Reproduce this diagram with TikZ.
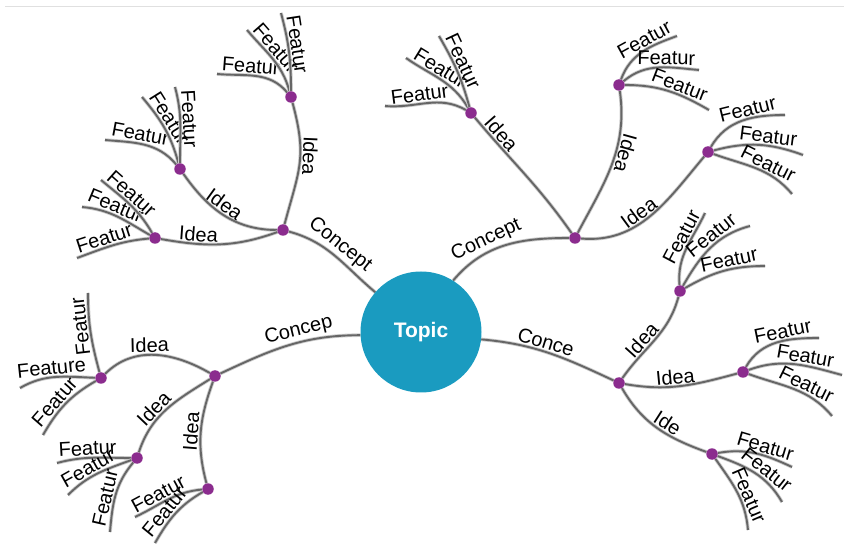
\documentclass[tikz,border=0pt]{standalone}
\usepackage{fontspec}
\setmainfont{Liberation Sans}
\usetikzlibrary{backgrounds}

\definecolor{topicblue}{HTML}{1A9BC0}
\definecolor{dotpurple}{HTML}{8B2C8E}
\definecolor{branchgray}{HTML}{666666}

\tikzset{
  topicnode/.style={circle, fill=topicblue, minimum size=121pt, inner sep=0pt,
                    text=white, font=\fontsize{21}{21}\selectfont\bfseries},
  dotnode/.style={circle, fill=dotpurple, minimum size=11.5pt, inner sep=0pt},
  branch/.style={draw=branchgray, line width=1.9pt,
                 preaction={draw=black!20, line width=3.6pt}},
  lbl/.style={sloped, allow upside down, above, inner sep=1.5pt,
              font=\fontsize{20}{20}\selectfont},
  fout/.style={lbl, pos=0.6},
  fin/.style={lbl, pos=0.42},
}

\begin{document}
\begin{tikzpicture}[x=1pt,y=1pt]
  \useasboundingbox (0,0) rectangle (844,-545);
  \draw[black!12, line width=1pt] (5,-7) -- (844,-7);

  % Topic and concepts
  \node[topicnode] (topic) at (421,-332) {Topic};
  \node[dotnode] (cNW) at (283,-230) {};
  \node[dotnode] (cNE) at (575,-238) {};
  \node[dotnode] (cSW) at (215,-376) {};
  \node[dotnode] (cSE) at (619,-383) {};

  % Ideas
  \node[dotnode] (iNWa) at (291,-97) {};
  \node[dotnode] (iNWb) at (180,-169) {};
  \node[dotnode] (iNWc) at (155,-238) {};
  \node[dotnode] (iNEa) at (471,-113) {};
  \node[dotnode] (iNEb) at (619,-85) {};
  \node[dotnode] (iNEc) at (708,-152) {};
  \node[dotnode] (iSWa) at (101,-378) {};
  \node[dotnode] (iSWb) at (137,-458) {};
  \node[dotnode] (iSWc) at (208,-489) {};
  \node[dotnode] (iSEa) at (680,-291) {};
  \node[dotnode] (iSEb) at (743,-372) {};
  \node[dotnode] (iSEc) at (712,-454) {};

  % Feature ends
  \coordinate (fNWa1) at (217,-74);
  \coordinate (fNWa2) at (247,-30);
  \coordinate (fNWa3) at (281,-13);
  \coordinate (fNWb1) at (105,-140);
  \coordinate (fNWb2) at (142,-97);
  \coordinate (fNWb3) at (175,-87);
  \coordinate (fNWc1) at (77,-258);
  \coordinate (fNWc2) at (82,-207);
  \coordinate (fNWc3) at (101,-180);
  \coordinate (fNEa1) at (385,-106);
  \coordinate (fNEa2) at (406,-58);
  \coordinate (fNEa3) at (439,-36);
  \coordinate (fNEb1) at (677,-36);
  \coordinate (fNEb2) at (699,-70);
  \coordinate (fNEb3) at (709,-110);
  \coordinate (fNEc1) at (785,-115);
  \coordinate (fNEc2) at (803,-155);
  \coordinate (fNEc3) at (792,-194);
  \coordinate (fSWa1) at (88,-293);
  \coordinate (fSWa2) at (20,-388);
  \coordinate (fSWa3) at (43,-435);
  \coordinate (fSWb1) at (57,-463);
  \coordinate (fSWb2) at (68,-495);
  \coordinate (fSWb3) at (110,-532);
  \coordinate (fSWc1) at (135,-517);
  \coordinate (fSWc2) at (155,-543);
  \coordinate (fSEa1) at (705,-213);
  \coordinate (fSEa2) at (750,-226);
  \coordinate (fSEa3) at (765,-266);
  \coordinate (fSEb1) at (819,-338);
  \coordinate (fSEb2) at (842,-375);
  \coordinate (fSEb3) at (832,-416);
  \coordinate (fSEc1) at (792,-467);
  \coordinate (fSEc2) at (782,-502);
  \coordinate (fSEc3) at (748,-530);

  \begin{scope}[on background layer]
    % Concepts
    \draw[branch] (cNW) to[out=-15,in=140] node[lbl,pos=0.47]{Concept} (topic.139);
    \draw[branch] (topic.58) to[out=50,in=180] node[lbl,pos=0.38]{Concept} (cNE);
    \draw[branch] (cSW) to[out=25,in=180] node[lbl,pos=0.6]{Concep} (topic.183);
    \draw[branch] (topic.-7) to[out=-5,in=155] node[lbl,pos=0.45]{Conce} (cSE);

    % Ideas
    \draw[branch] (iNWa) to[out=-75,in=75,looseness=1.2] node[lbl,pos=0.42]{Idea} (cNW);
    \draw[branch] (iNWb) to[out=-55,in=180] node[lbl,pos=0.45]{Idea} (cNW);
    \draw[branch] (iNWc) to[out=-10,in=200] node[lbl,pos=0.3]{Idea} (cNW);
    \draw[branch] (iNEa) to[out=-50,in=125] node[lbl,pos=0.18]{Idea} (cNE);
    \draw[branch] (iNEb) to[out=-82,in=62] node[lbl,pos=0.4]{Idea} (cNE);
    \draw[branch] (cNE) to[out=-5,in=230] node[lbl,pos=0.45]{Idea} (iNEc);
    \draw[branch] (iSWa) to[out=45,in=150] node[lbl,pos=0.45]{Idea} (cSW);
    \draw[branch] (iSWb) to[out=72,in=212] node[lbl,pos=0.42]{Idea} (cSW);
    \draw[branch] (iSWc) to[out=105,in=250] node[lbl,pos=0.5]{Idea} (cSW);
    \draw[branch] (cSE) to[out=55,in=255] node[lbl,pos=0.4]{Idea} (iSEa);
    \draw[branch] (cSE) to[out=-10,in=195] node[lbl,pos=0.45]{Idea} (iSEb);
    \draw[branch] (cSE) to[out=-60,in=160] node[lbl,pos=0.56]{Ide} (iSEc);

    % Features
    \draw[branch] (fNWa1) to[out=-5,in=130] node[fin]{Featur} (iNWa);
    \draw[branch] (fNWa2) to[out=-50,in=105] node[fin]{Featur} (iNWa);
    \draw[branch] (fNWa3) to[out=-75,in=90] node[fin]{Featur} (iNWa);
    \draw[branch] (fNWb1) to[out=-5,in=130] node[fin]{Featur} (iNWb);
    \draw[branch] (fNWb2) to[out=-50,in=105] node[fin]{Featur} (iNWb);
    \draw[branch] (fNWb3) to[out=-75,in=90] node[fin]{Featur} (iNWb);
    \draw[branch] (fNWc1) to[out=20,in=185] node[fin]{Featur} (iNWc);
    \draw[branch] (fNWc2) to[out=-5,in=150] node[fin]{Featur} (iNWc);
    \draw[branch] (fNWc3) to[out=-40,in=120] node[fin]{Featur} (iNWc);
    \draw[branch] (fNEa1) to[out=-5,in=150] node[fin]{Featur} (iNEa);
    \draw[branch] (fNEa2) to[out=-35,in=120] node[fin]{Featur} (iNEa);
    \draw[branch] (fNEa3) to[out=-60,in=105] node[fin]{Featur} (iNEa);
    \draw[branch] (iNEb) to[out=70,in=200] node[fout]{Featur} (fNEb1);
    \draw[branch] (iNEb) to[out=40,in=175] node[fout]{Featur} (fNEb2);
    \draw[branch] (iNEb) to[out=0,in=150] node[fout]{Featur} (fNEb3);
    \draw[branch] (iNEc) to[out=60,in=180] node[fout]{Featur} (fNEc1);
    \draw[branch] (iNEc) to[out=15,in=160] node[fout]{Featur} (fNEc2);
    \draw[branch] (iNEc) to[out=-20,in=130] node[fout]{Featur} (fNEc3);
    \draw[branch] (iSWa) to[out=105,in=-90] node[fout]{Featur} (fSWa1);
    \draw[branch] (fSWa2) to[out=30,in=178] node[lbl,pos=0.45]{Feature} (iSWa);
    \draw[branch] (fSWa3) to[out=60,in=210] node[fin]{Featur} (iSWa);
    \draw[branch] (fSWb1) to[out=15,in=180] node[fin]{Featur} (iSWb);
    \draw[branch] (fSWb2) to[out=45,in=200] node[fin]{Featur} (iSWb);
    \draw[branch] (fSWb3) to[out=85,in=230] node[fin]{Featur} (iSWb);
    \draw[branch] (fSWc1) to[out=25,in=185] node[fin]{Featur} (iSWc);
    \draw[branch] (fSWc2) to[out=60,in=210] node[fin]{Featur} (iSWc);
    \draw[branch] (iSEa) to[out=95,in=-115] node[fout]{Featur} (fSEa1);
    \draw[branch] (iSEa) to[out=60,in=195] node[fout]{Featur} (fSEa2);
    \draw[branch] (iSEa) to[out=30,in=180] node[fout]{Featur} (fSEa3);
    \draw[branch] (iSEb) to[out=60,in=180] node[fout]{Featur} (fSEb1);
    \draw[branch] (iSEb) to[out=20,in=165] node[fout]{Featur} (fSEb2);
    \draw[branch] (iSEb) to[out=-20,in=130] node[fout]{Featur} (fSEb3);
    \draw[branch] (iSEc) to[out=10,in=155] node[fout]{Featur} (fSEc1);
    \draw[branch] (iSEc) to[out=-20,in=120] node[fout]{Featur} (fSEc2);
    \draw[branch] (iSEc) to[out=-55,in=95] node[fout]{Featur} (fSEc3);
  \end{scope}
\end{tikzpicture}
\end{document}
